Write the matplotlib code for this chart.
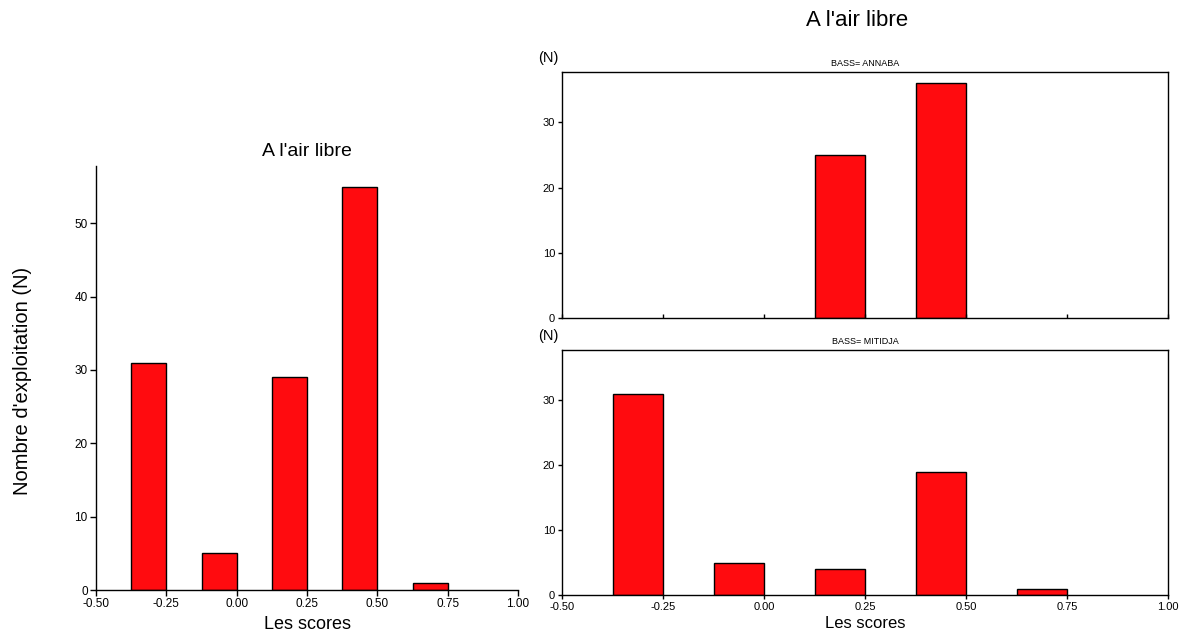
import matplotlib
matplotlib.use("Agg")
import matplotlib.pyplot as plt

plt.rcParams.update({
    "font.family": ["Liberation Sans", "DejaVu Sans"],
    "axes.linewidth": 1.0,
})

# classes de scores (bord gauche de chaque classe, largeur 0.125)
bin_left = [-0.375, -0.125, 0.125, 0.375, 0.625]
bin_width = 0.125
total = [31, 5, 29, 55, 1]
annaba = [0, 0, 25, 36, 0]
mitidja = [31, 5, 4, 19, 1]

xticks = [-0.5, -0.25, 0.0, 0.25, 0.5, 0.75, 1.0]
xticklabels = ["-0.50", "-0.25", "0.00", "0.25", "0.50", "0.75", "1.00"]

RED = "#ff0b0f"

fig = plt.figure(figsize=(11.84, 6.4), dpi=100)

# --- graphique de gauche ---
ax = fig.add_axes([0.0811, 0.0781, 0.3564, 0.6625])
ax.bar(bin_left, total, width=bin_width, align="edge", color=RED, edgecolor="black", linewidth=1.0)
ax.set_xlim(-0.5, 1.0)
ax.set_ylim(0, 57.8)
ax.set_xticks(xticks)
ax.set_xticklabels(xticklabels)
ax.set_yticks([0, 10, 20, 30, 40, 50])
ax.tick_params(labelsize=8.5, length=4, width=1, pad=2)
ax.spines["top"].set_visible(False)
ax.spines["right"].set_visible(False)
ax.set_title("A l'air libre", fontsize=14, pad=7)
ax.set_xlabel("Les scores", fontsize=13, labelpad=4)
fig.text(0.019, 0.405, "Nombre d'exploitation (N)", rotation=90, fontsize=14.5,
         ha="center", va="center")

# --- graphiques de droite ---
fig.text(0.724, 0.968, "A l'air libre", fontsize=16, ha="center", va="center")

panels = [
    ([0.4747, 0.5031, 0.5118, 0.3844], annaba, "BASS= ANNABA", 0.909, False),
    ([0.4747, 0.0703, 0.5118, 0.3828], mitidja, "BASS= MITIDJA", 0.475, True),
]
for rect, vals, name, ny, show_x in panels:
    a = fig.add_axes(rect)
    keep = [i for i, v in enumerate(vals) if v > 0]
    a.bar([bin_left[i] for i in keep], [vals[i] for i in keep], width=bin_width,
          align="edge", color=RED, edgecolor="black", linewidth=1.0)
    a.set_xlim(-0.5, 1.0)
    a.set_ylim(0, 37.7)
    a.set_xticks(xticks)
    a.set_yticks([0, 10, 20, 30])
    a.tick_params(axis="y", labelsize=8, length=3, width=1, pad=2)
    if show_x:
        a.set_xticklabels(xticklabels)
        a.tick_params(axis="x", labelsize=8, length=3, width=1, pad=2)
        a.set_xlabel("Les scores", fontsize=12, labelpad=3)
    else:
        a.set_xticklabels([])
        a.tick_params(axis="x", direction="in", length=3, width=1)
    a.set_title(name, fontsize=6.5, pad=4)
    fig.text(0.463, ny, "(N)", fontsize=10.5, ha="center", va="center")

fig.savefig("out.png", dpi=100, facecolor="white")
plt.close(fig)
